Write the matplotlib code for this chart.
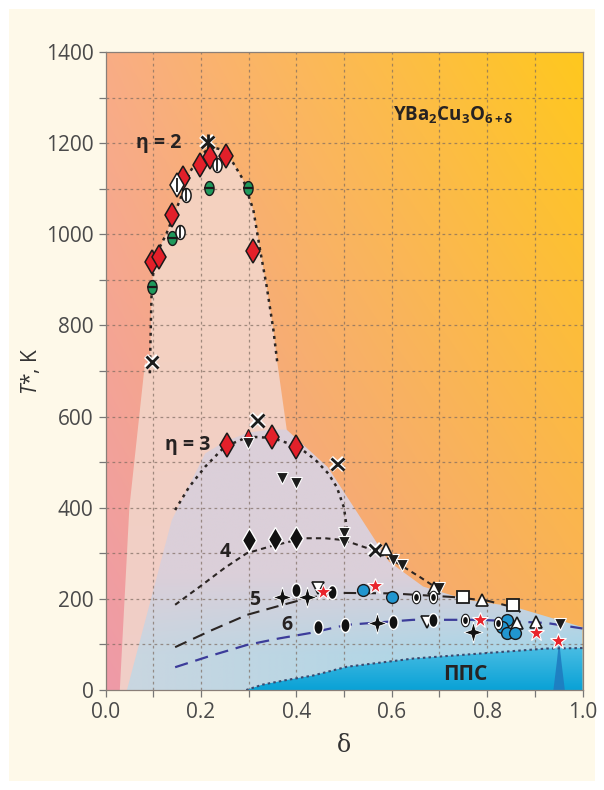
#!/usr/bin/env python3
"""
T*(delta) phase diagram for YBa2Cu3O6+delta with eta-curves and data points
"""

import numpy as np
import matplotlib.pyplot as plt
import matplotlib.patheffects as pe
from matplotlib.patches import Polygon, Rectangle
from matplotlib.path import Path
from matplotlib.ticker import MultipleLocator
from matplotlib.colors import to_rgb

plt.rcParams['font.family'] = ['Open Sans', 'DejaVu Sans']
plt.rcParams['mathtext.fontset'] = 'custom'
plt.rcParams['mathtext.rm'] = 'Open Sans'
plt.rcParams['mathtext.it'] = 'Open Sans:italic'
plt.rcParams['mathtext.bf'] = 'Open Sans:bold'

# ---- curves (delta, T) ----
eta2_d = [0.093, 0.095, 0.097, 0.104, 0.128, 0.156, 0.177, 0.198, 0.219, 0.247, 0.268, 0.289, 0.31, 0.324, 0.338, 0.352, 0.36]
eta2_t = [695, 800, 885, 951, 1002, 1075, 1137, 1170, 1192, 1185, 1156, 1119, 1053, 966, 885, 790, 720]

eta3_d = [0.146, 0.175, 0.209, 0.25, 0.3, 0.35, 0.404, 0.44, 0.467, 0.485, 0.50, 0.507]
eta3_t = [395, 445, 490, 534, 556, 553, 534, 505, 475, 445, 400, 345]

eta4_d = [0.146, 0.198, 0.25, 0.296, 0.345, 0.415, 0.46, 0.499, 0.561, 0.611, 0.659, 0.701]
eta4_t = [187, 227, 268, 300, 315, 333, 333, 329, 307, 279, 248, 219]

eta5_d = [0.146, 0.22, 0.297, 0.372, 0.43, 0.499, 0.6, 0.729, 0.8, 0.854, 0.87]
eta5_t = [94, 130, 165, 187, 203, 213, 212, 204, 196, 182, 171]

eta6_d = [0.146, 0.22, 0.297, 0.363, 0.429, 0.506, 0.645, 0.785, 0.925, 1.0]
eta6_t = [50, 75, 99, 113, 125, 143, 154, 154, 147, 135]

pps_d = [0.295, 0.33, 0.38, 0.436, 0.506, 0.645, 0.785, 0.925, 1.0]
pps_t = [0, 12, 22, 32, 51, 69, 80, 91, 92]

# ---- shaded regions ----
dome_left_d = [0.03, 0.05, 0.083]
dome_left_t = [0, 400, 720]
dome_right_d = [0.38, 0.45]
dome_right_t = [571, 0]

lav_d = [0.045, 0.139, 0.209, 0.25, 0.3, 0.35, 0.38, 0.466, 0.538, 0.594, 0.666, 0.757, 0.855, 1.0, 1.0]
lav_t = [0, 373, 519, 545, 565, 572, 571, 489, 373, 282, 227, 198, 183, 138, 0]

spike_d = [0.939, 0.946, 0.951, 0.956, 0.963]
spike_t = [0, 60, 108, 60, 0]

# ---- data points ----
x_d = [0.097, 0.319, 0.486, 0.565]
x_t = [720, 591, 496, 307]
ast_d = [0.214]
ast_t = [1203]

green_d = [0.097, 0.139, 0.218, 0.299]
green_t = [885, 991, 1101, 1101]

red_dia_d = [0.097, 0.113, 0.139, 0.162, 0.198, 0.219, 0.253, 0.31, 0.254, 0.35, 0.40]
red_dia_t = [940, 951, 1042, 1123, 1152, 1170, 1172, 964, 538, 556, 534]

phi_d = [0.156, 0.169, 0.234]
phi_t = [1006, 1086, 1152]
wdia_d = [0.149]
wdia_t = [1108]

red_up_d = [0.299]
red_up_t = [562]

blk_down_d = [0.299, 0.369, 0.40, 0.50, 0.50, 0.602, 0.621, 0.70, 0.953]
blk_down_t = [541, 465, 454, 344, 325, 285, 274, 223, 145]

blk_dia_d = [0.30, 0.356, 0.40]
blk_dia_t = [329, 331, 333]

w_up_d = [0.588, 0.689, 0.789, 0.902, 0.862]
w_up_t = [309, 223, 197, 150, 146]
w_down_d = [0.673, 0.445]
w_down_t = [150, 224]

w_sq_d = [0.749, 0.854]
w_sq_t = [203, 186]

star_d = [0.457, 0.565, 0.785, 0.902, 0.949]
star_t = [216, 228, 154, 124, 108]

blue_d = [0.540, 0.60, 0.841, 0.831, 0.841, 0.859]
blue_t = [219, 203, 154, 139, 124, 124]

ring_d = [0.651, 0.687, 0.754, 0.823]
ring_t = [203, 203, 154, 147]

blk_ell_d = [0.40, 0.474, 0.446, 0.502, 0.602, 0.687]
blk_ell_t = [219, 216, 139, 143, 150, 154]

spark_d = [0.369, 0.422, 0.569, 0.77]
spark_t = [205, 205, 146, 128]

# ---- custom markers ----
_a = np.linspace(0, 2 * np.pi, 41)
ELLIPSE = Path(np.column_stack([0.66 * np.sin(_a), np.cos(_a)]))
SPARK = Path([(0, 1), (0.22, 0.24), (0.9, 0), (0.22, -0.24), (0, -1),
              (-0.22, -0.24), (-0.9, 0), (-0.22, 0.24), (0, 1)])


def gradient_fill(ax, xs, ys, color_fn, zorder):
    poly = Polygon(np.column_stack([xs, ys]), closed=True, facecolor='none',
                   edgecolor='none', transform=ax.transData)
    ax.add_patch(poly)
    gx, gy = np.meshgrid(np.linspace(0, 1, 250), np.linspace(0, 1400, 400))
    im = ax.imshow(color_fn(gx, gy), extent=[0, 1, 0, 1400], origin='lower',
                   aspect='auto', zorder=zorder, interpolation='bilinear')
    im.set_clip_path(poly)


def rgb(c):
    return np.array(to_rgb(c))


def bg_colors(X, Y):
    tl, tr, bl, br = rgb('#F9AD85'), rgb('#FFC81E'), rgb('#EE9AA8'), rgb('#F9AF5E')
    u = X[..., None]
    v = (Y / 1400.0)[..., None]
    top = tl * (1 - u) + tr * u
    bot = bl * (1 - u) + br * u
    return np.clip(bot * (1 - v) + top * v, 0, 1)


def dome_colors(X, Y):
    c1, c2 = rgb('#F0CEC8'), rgb('#F5D2BE')
    v = (Y / 1200.0)[..., None]
    return np.clip(c1 * (1 - v) + c2 * v, 0, 1)


def lav_colors(X, Y):
    lav, grey, blue = rgb('#DBCFD9'), rgb('#CBD6E0'), rgb('#A2D6EA')
    u = X[..., None]
    tv = np.clip((250 - Y) / 170.0, 0, 1)[..., None]
    bottom = grey * (1 - u) + blue * u
    return np.clip(lav * (1 - tv) + bottom * tv, 0, 1)


def pps_colors(X, Y):
    top, bot = rgb('#48BCE3'), rgb('#0AA2D6')
    v = np.clip(Y / 90.0, 0, 1)[..., None]
    return np.clip(bot * (1 - v) + top * v, 0, 1)


def main():
    fig = plt.figure(figsize=(6.04, 7.9), dpi=100, facecolor='white')
    fig.patches.append(Rectangle((9 / 604, 9 / 790), 586 / 604, 772 / 790,
                                 transform=fig.transFigure, facecolor='#FEF9E9',
                                 edgecolor='none', zorder=-10))
    ax = fig.add_axes([105.5 / 604, 100 / 790, 477 / 604, 638 / 790])

    # background and regions
    gradient_fill(ax, [0, 1, 1, 0], [0, 0, 1400, 1400], bg_colors, 0)
    dome_d = dome_left_d + eta2_d + dome_right_d
    dome_t = dome_left_t + eta2_t + dome_right_t
    gradient_fill(ax, dome_d, dome_t, dome_colors, 0.5)
    gradient_fill(ax, lav_d, lav_t, lav_colors, 0.7)
    gradient_fill(ax, pps_d + [1.0], pps_t + [0], pps_colors, 2.5)
    ax.fill(spike_d, spike_t, color='#1F7CC0', alpha=0.9, zorder=2.6, lw=0)

    # grid
    for gx in np.arange(0.1, 1.0, 0.1):
        ax.axvline(gx, color='#7d6b60', lw=0.9, dashes=(2.2, 2.6), alpha=0.7, zorder=2)
    for gy in range(100, 1400, 100):
        ax.axhline(gy, color='#7d6b60', lw=0.9, dashes=(2.2, 2.6), alpha=0.7, zorder=2)

    # curves
    dark = '#2b2523'
    ax.plot(eta2_d, eta2_t, color=dark, lw=1.8, dashes=(1.2, 1.8), zorder=4)
    ax.plot(eta3_d, eta3_t, color=dark, lw=1.8, dashes=(1.2, 1.8), zorder=4)
    ax.plot(eta4_d, eta4_t, color=dark, lw=1.5, dashes=(2.5, 2.0), zorder=4)
    ax.plot(eta5_d, eta5_t, color=dark, lw=1.5, dashes=(6, 3.5), zorder=4)
    ax.plot(eta6_d, eta6_t, color='#3c3c9a', lw=1.6, dashes=(6, 3.5), zorder=4)
    ax.plot(pps_d, pps_t, color='#3a4a70', lw=1.5, dashes=(1.2, 1.5), zorder=4)

    # labels
    lbl = dict(fontsize=14, fontweight='bold', color='#262222', zorder=5,
               ha='center', va='center')
    ax.text(0.111, 1200, 'η = 2', **lbl)
    ax.text(0.172, 538, 'η = 3', **lbl)
    ax.text(0.25, 303, '4', **lbl)
    ax.text(0.313, 197, '5', **lbl)
    ax.text(0.38, 143, '6', **lbl)
    ax.text(0.754, 33, 'ППС', fontsize=15, fontweight='bold', color='#262222',
            ha='center', va='center', zorder=5)
    ax.text(0.602, 1262, r'YBa$_\mathbf{2}$Cu$_\mathbf{3}$O$_{\mathbf{6+\delta}}$',
            fontsize=13.5, fontweight='bold', color='#262222', ha='left', va='center', zorder=5)

    # markers
    halo = [pe.withStroke(linewidth=4, foreground='white')]
    ax.plot(x_d, x_t, ls='none', marker='x', ms=9, mew=2.0, color='#1c1c1c',
            path_effects=halo, zorder=6)
    ax.plot(ast_d, ast_t, ls='none', marker='x', ms=9, mew=2.0, color='#1c1c1c',
            path_effects=halo, zorder=6)
    ax.plot(ast_d, ast_t, ls='none', marker='|', ms=11, mew=2.0, color='#1c1c1c', zorder=6)

    ax.plot(green_d, green_t, ls='none', marker=ELLIPSE, ms=10, mfc='#1F9A5C',
            mec='#1a1a1a', mew=1.0, zorder=6)
    ax.plot(green_d, green_t, ls='none', marker='_', ms=6.5, mew=1.6, color='#1a1a1a', zorder=6)

    ax.plot(red_dia_d, red_dia_t, ls='none', marker='d', ms=12.5, mfc='#E3202A',
            mec='#1a1a1a', mew=1.1, zorder=6)
    ax.plot(phi_d, phi_t, ls='none', marker=ELLIPSE, ms=10, mfc='white',
            mec='#1a1a1a', mew=1.1, zorder=6)
    ax.plot(phi_d, phi_t, ls='none', marker='|', ms=8, mew=1.3, color='#1a1a1a', zorder=6)
    ax.plot(wdia_d, wdia_t, ls='none', marker='d', ms=12, mfc='white',
            mec='#1a1a1a', mew=1.1, zorder=6)
    ax.plot(wdia_d, wdia_t, ls='none', marker='|', ms=10, mew=1.3, color='#1a1a1a', zorder=6)

    ax.plot(red_up_d, red_up_t, ls='none', marker='^', ms=7, mfc='#E3202A',
            mec='#1a1a1a', mew=0.8, zorder=6)
    ax.plot(blk_down_d, blk_down_t, ls='none', marker='v', ms=8, mfc='#1c1c1c',
            mec='white', mew=0.8, zorder=6)
    ax.plot(blk_dia_d, blk_dia_t, ls='none', marker='d', ms=12, mfc='#111111',
            mec='white', mew=1.0, zorder=6)
    ax.plot(w_up_d, w_up_t, ls='none', marker='^', ms=8, mfc='white',
            mec='#1a1a1a', mew=1.2, zorder=6)
    ax.plot(w_down_d, w_down_t, ls='none', marker='v', ms=8, mfc='white',
            mec='#1a1a1a', mew=1.2, zorder=6)
    ax.plot(w_sq_d, w_sq_t, ls='none', marker='s', ms=9, mfc='white',
            mec='#1a1a1a', mew=1.3, zorder=6)
    ax.plot(blue_d, blue_t, ls='none', marker='o', ms=8.5, mfc='#2196D0',
            mec='#1a1a1a', mew=1.0, zorder=6)
    ax.plot(ring_d, ring_t, ls='none', marker=ELLIPSE, ms=9, mfc='white',
            mec='#1a1a1a', mew=0.8, zorder=6)
    ax.plot(ring_d, ring_t, ls='none', marker=ELLIPSE, ms=5, mfc='#111111',
            mec='none', zorder=6)
    ax.plot(blk_ell_d, blk_ell_t, ls='none', marker=ELLIPSE, ms=10, mfc='#111111',
            mec='white', mew=1.0, zorder=6)
    ax.plot(spark_d, spark_t, ls='none', marker=SPARK, ms=15, mfc='#111111',
            mec='white', mew=0.6, zorder=6)
    ax.plot(star_d, star_t, ls='none', marker='*', ms=12, mfc='#E8242C',
            mec='white', mew=0.8, zorder=6)

    # axes formatting
    ax.set_xlim(0, 1)
    ax.set_ylim(0, 1400)
    ax.xaxis.set_major_locator(MultipleLocator(0.2))
    ax.xaxis.set_minor_locator(MultipleLocator(0.1))
    ax.yaxis.set_major_locator(MultipleLocator(200))
    ax.yaxis.set_minor_locator(MultipleLocator(100))
    ax.xaxis.set_major_formatter(lambda v, p: f'{v:.1f}')
    ax.tick_params(which='both', direction='out', length=5, width=0.9,
                   color='#777777', labelsize=15, labelcolor='#4a4a4a')
    for s in ax.spines.values():
        s.set_color('#8a7f78')
        s.set_linewidth(0.9)
        s.set_zorder(7)
    ax.set_xlabel('δ', fontsize=17, family='DejaVu Serif', color='#333333', labelpad=8)
    ax.set_ylabel(r'$T$*, K', fontsize=15, color='#333333', labelpad=3)

    fig.savefig('out.png', dpi=100, facecolor=fig.get_facecolor())
    print('Saved out.png')


if __name__ == "__main__":
    main()
